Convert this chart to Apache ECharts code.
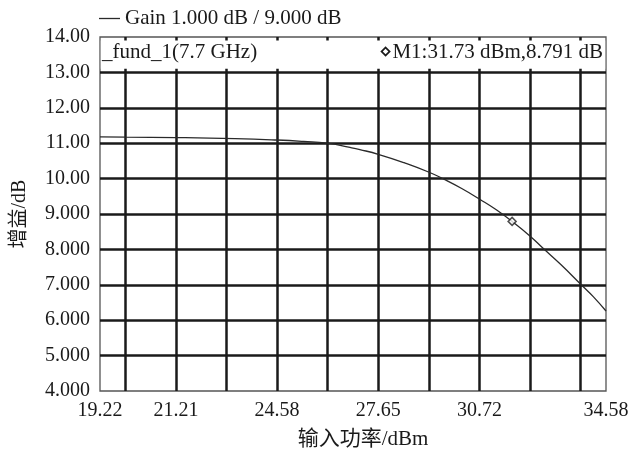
<!DOCTYPE html>
<html>
<head>
<meta charset="utf-8">
<script src="https://cdn.jsdelivr.net/npm/echarts@6/dist/echarts.min.js"></script>
<style>html,body{margin:0;padding:0;background:#fff}#c{width:633px;height:455px}</style>
</head>
<body>
<div id="c"></div>
<script>
// ---- data ----
var seriesName = 'Gain 1.000 dB / 9.000 dB';
var inputPower = [19.22, 20.0, 21.53, 23.32, 24.59, 25.4, 26.11, 26.81, 27.11, 27.69, 28.45, 29.21, 29.69, 30.2, 30.76, 31.25, 31.73, 32.27, 32.67, 33.2, 33.82, 34.2, 34.58];
var gainValues = [11.18, 11.17, 11.16, 11.13, 11.09, 11.05, 11.00, 10.88, 10.82, 10.68, 10.45, 10.18, 9.97, 9.72, 9.41, 9.12, 8.79, 8.38, 8.03, 7.58, 7.01, 6.66, 6.26];
var markerPoint = [31.73, 8.791];
var markerText = '\u22C4M1:31.73 dBm,8.791 dB';
var traceText = '_fund_1(7.7 GHz)';
var xTickLabels = ['19.22', '21.21', '24.58', '27.65', '30.72', '34.58'];
var xTickPos = [19.22, 21.524, 24.596, 27.668, 30.74, 34.58];
var xGridPos = [19.988, 21.524, 23.06, 24.596, 26.132, 27.668, 29.204, 30.74, 32.276, 33.812];
var yTickLabels = ['4.000', '5.000', '6.000', '7.000', '8.000', '9.000', '10.00', '11.00', '12.00', '13.00', '14.00'];
var yTickPos = [4, 5, 6, 7, 8, 9, 10, 11, 12, 13, 14];
var yGridPos = [5, 6, 7, 8, 9, 10, 11, 12, 13];
var xName = '输入功率/dBm';
var yName = '增益/dB';
var xMin = 19.22, xMax = 34.58, yMin = 4, yMax = 14;

var serif = '"Liberation Serif", "Noto Sans CJK SC", serif';
function nearestLabel(v, pos, labels) {
  var best = 0;
  for (var i = 1; i < pos.length; i++) if (Math.abs(pos[i] - v) < Math.abs(pos[best] - v)) best = i;
  return labels[best];
}
var chart = echarts.init(document.getElementById('c'));
var txt = { color: '#1a1a1a', fontFamily: serif, fontSize: 20 };
var txtL = { color: '#1a1a1a', fontFamily: serif, fontSize: 21, fontWeight: 'normal' };
chart.setOption({
  animation: false,
  backgroundColor: '#fff',
  grid: { left: 100, top: 37, right: 27, bottom: 63, show: true, borderColor: '#555', borderWidth: 1.3 },
  title: [
    { text: traceText, left: 102, top: 42, textStyle: txtL, padding: 0 },
    { text: markerText, right: 30, top: 42, textStyle: txtL, padding: 0 }
  ],
  legend: {
    data: [seriesName], left: 99, top: 8, icon: 'rect', itemWidth: 21, itemHeight: 1.3, itemGap: 7,
    textStyle: txtL, padding: 0
  },
  xAxis: {
    type: 'value', min: xMin, max: xMax,
    name: xName, nameLocation: 'middle', nameGap: 38,
    nameTextStyle: Object.assign({ padding: [0, 0, 0, 20] }, txtL),
    axisLine: { show: false },
    axisTick: { show: false, customValues: xGridPos },
    splitLine: { show: true, lineStyle: { color: '#1a1a1a', width: 2.5 } },
    axisLabel: Object.assign({ customValues: xTickPos, margin: 10, showMinLabel: true, showMaxLabel: true,
      formatter: function (v) { return nearestLabel(v, xTickPos, xTickLabels); } }, txt)
  },
  yAxis: {
    type: 'value', min: yMin, max: yMax, interval: 1,
    name: yName, nameLocation: 'middle', nameGap: 70, nameTextStyle: txt,
    axisLine: { show: false },
    axisTick: { show: false, customValues: yGridPos },
    splitLine: { show: true, lineStyle: { color: '#1a1a1a', width: 2.5 } },
    axisLabel: Object.assign({ customValues: yTickPos, margin: 10,
      formatter: function (v) { return nearestLabel(v, yTickPos, yTickLabels); } }, txt)
  },
  series: [
    {
      name: seriesName, type: 'line', smooth: true, symbol: 'none',
      data: inputPower.map(function (x, i) { return [x, gainValues[i]]; }),
      lineStyle: { color: '#2a2a2a', width: 1.3 }, itemStyle: { color: '#2a2a2a' },
      markArea: {
        silent: true,
        itemStyle: { color: '#fff', opacity: 1 },
        data: [[{ coord: [xMin + 0.025, yMax - 0.1] }, { coord: [xMax - 0.025, 13.1] }]]
      }
    },
    {
      name: 'M1', type: 'scatter', symbol: 'diamond', symbolSize: 8,
      data: [markerPoint],
      itemStyle: { color: '#fff', borderColor: '#222', borderWidth: 1.5 }, z: 5
    }
  ]
});
</script>
</body>
</html>
